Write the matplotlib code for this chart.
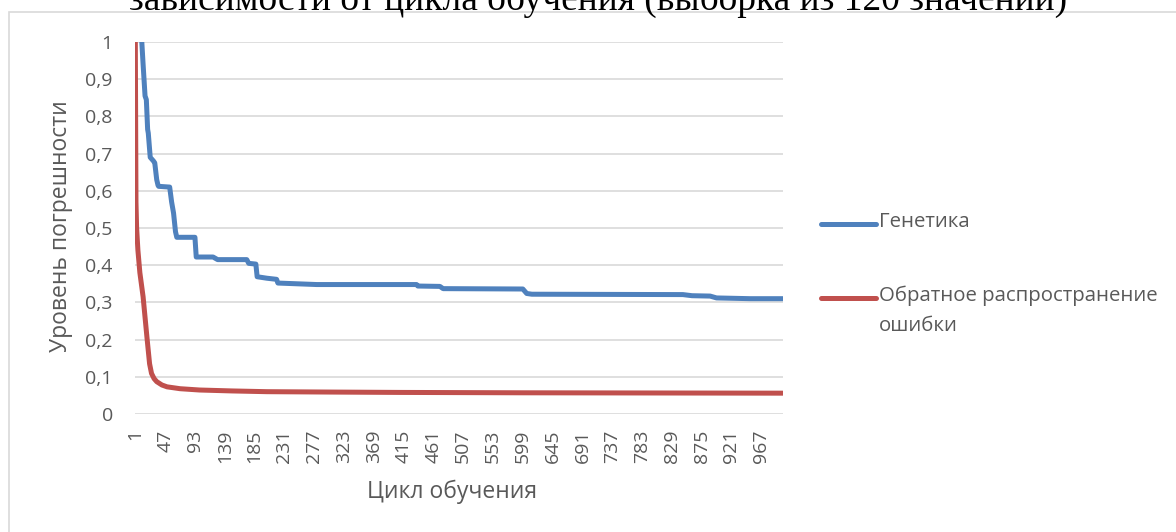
import matplotlib.pyplot as plt
from matplotlib.lines import Line2D
from matplotlib.patches import Rectangle

plt.rcParams['font.family'] = ['Open Sans', 'DejaVu Sans']

# cycle number -> error level, breakpoints of each training curve
gen_cycle = [1, 8, 11, 13, 16, 18, 20, 21, 24, 29, 31, 34, 36, 37, 54, 57, 60, 63, 65,
             93, 95, 121, 128, 173, 176, 187, 189, 204, 219, 221, 281, 435, 437, 471,
             476, 599, 605, 613, 846, 860, 888, 898, 950, 1000]
gen_error = [1.3, 1.05, 1.0, 0.94, 0.855, 0.845, 0.765, 0.755, 0.69, 0.68, 0.675, 0.63,
             0.615, 0.612, 0.61, 0.57, 0.54, 0.49, 0.475, 0.475, 0.422, 0.422, 0.415,
             0.415, 0.405, 0.403, 0.369, 0.365, 0.362, 0.352, 0.348, 0.348, 0.344,
             0.343, 0.337, 0.336, 0.324, 0.322, 0.321, 0.318, 0.317, 0.312, 0.310, 0.310]

bp_cycle = [1, 2, 3, 5, 8, 13, 16, 19, 23, 26, 30, 34, 42, 50, 70, 100, 150, 204, 300,
            410, 600, 1000]
bp_error = [1.0, 0.57, 0.50, 0.44, 0.38, 0.315, 0.26, 0.205, 0.135, 0.109, 0.095, 0.087,
            0.078, 0.073, 0.068, 0.0645, 0.062, 0.060, 0.059, 0.058, 0.057, 0.056]

n_cycles = 1000
tick_step = 46
y_ticks = [i / 10 for i in range(11)]

title = 'зависимости от цикла обучения (выборка из 120 значений)'
series_names = ['Генетика', 'Обратное распространение\nошибки']
colors = ['#4f81bd', '#c0504d']
text_color = '#595959'

W, H = 1176, 532
fig = plt.figure(figsize=(W / 100, H / 100), dpi=100)
ax = fig.add_axes([135 / W, 1 - 414 / H, (783 - 135) / W, (414 - 42) / H])

ax.plot(gen_cycle, gen_error, color=colors[0], lw=3.6,
        solid_capstyle='round', solid_joinstyle='round')
ax.plot(bp_cycle, bp_error, color=colors[1], lw=3.6,
        solid_capstyle='round', solid_joinstyle='round')

ax.set_xlim(0.5, n_cycles + 0.5)
ax.set_ylim(0, 1)
ax.set_yticks(y_ticks)
ax.set_yticklabels([('%g' % v).replace('.', ',') for v in y_ticks])
xt = list(range(1, n_cycles + 1, tick_step))
ax.set_xticks(xt)
ax.set_xticklabels([str(v) for v in xt], rotation=90)
ax.tick_params(length=0, labelsize=14, labelcolor=text_color)
ax.tick_params(axis='y', pad=16)
ax.tick_params(axis='x', pad=11)
for s in ax.spines.values():
    s.set_visible(False)
ax.yaxis.grid(True, color='#d9d9d9', lw=1.2)
ax.set_axisbelow(True)

ax.set_xlabel('Цикл обучения', fontsize=16.5, color=text_color, va='center')
ax.set_ylabel('Уровень погрешности', fontsize=16.5, color=text_color, va='center')
ax.xaxis.set_label_coords(0.49, -(492 - 414) / 372)
ax.yaxis.set_label_coords((61 - 135) / 648, 0.505)

# legend on the right
leg_y = [224, 298]
for name, c, y in zip(series_names, colors, leg_y):
    fig.add_artist(Line2D([821 / W, 876 / W], [1 - y / H, 1 - y / H], color=c, lw=3.6,
                          solid_capstyle='round', transform=fig.transFigure))
    fig.text(879 / W, 1 - (y - 12) / H, name, fontsize=14.7, color=text_color,
             va='top', ha='left', linespacing=1.62)

# chart frame
fig.add_artist(Rectangle((9 / W, -0.1), 1.2, 1 - 12 / H + 0.1, fill=False,
                         ec='#d9d9d9', lw=1.2, transform=fig.transFigure))

fig.text(598 / W, 1 - 10 / H, title, fontsize=27, family='Liberation Serif',
         ha='center', va='baseline', color='black')

fig.savefig('out.png', dpi=100)
